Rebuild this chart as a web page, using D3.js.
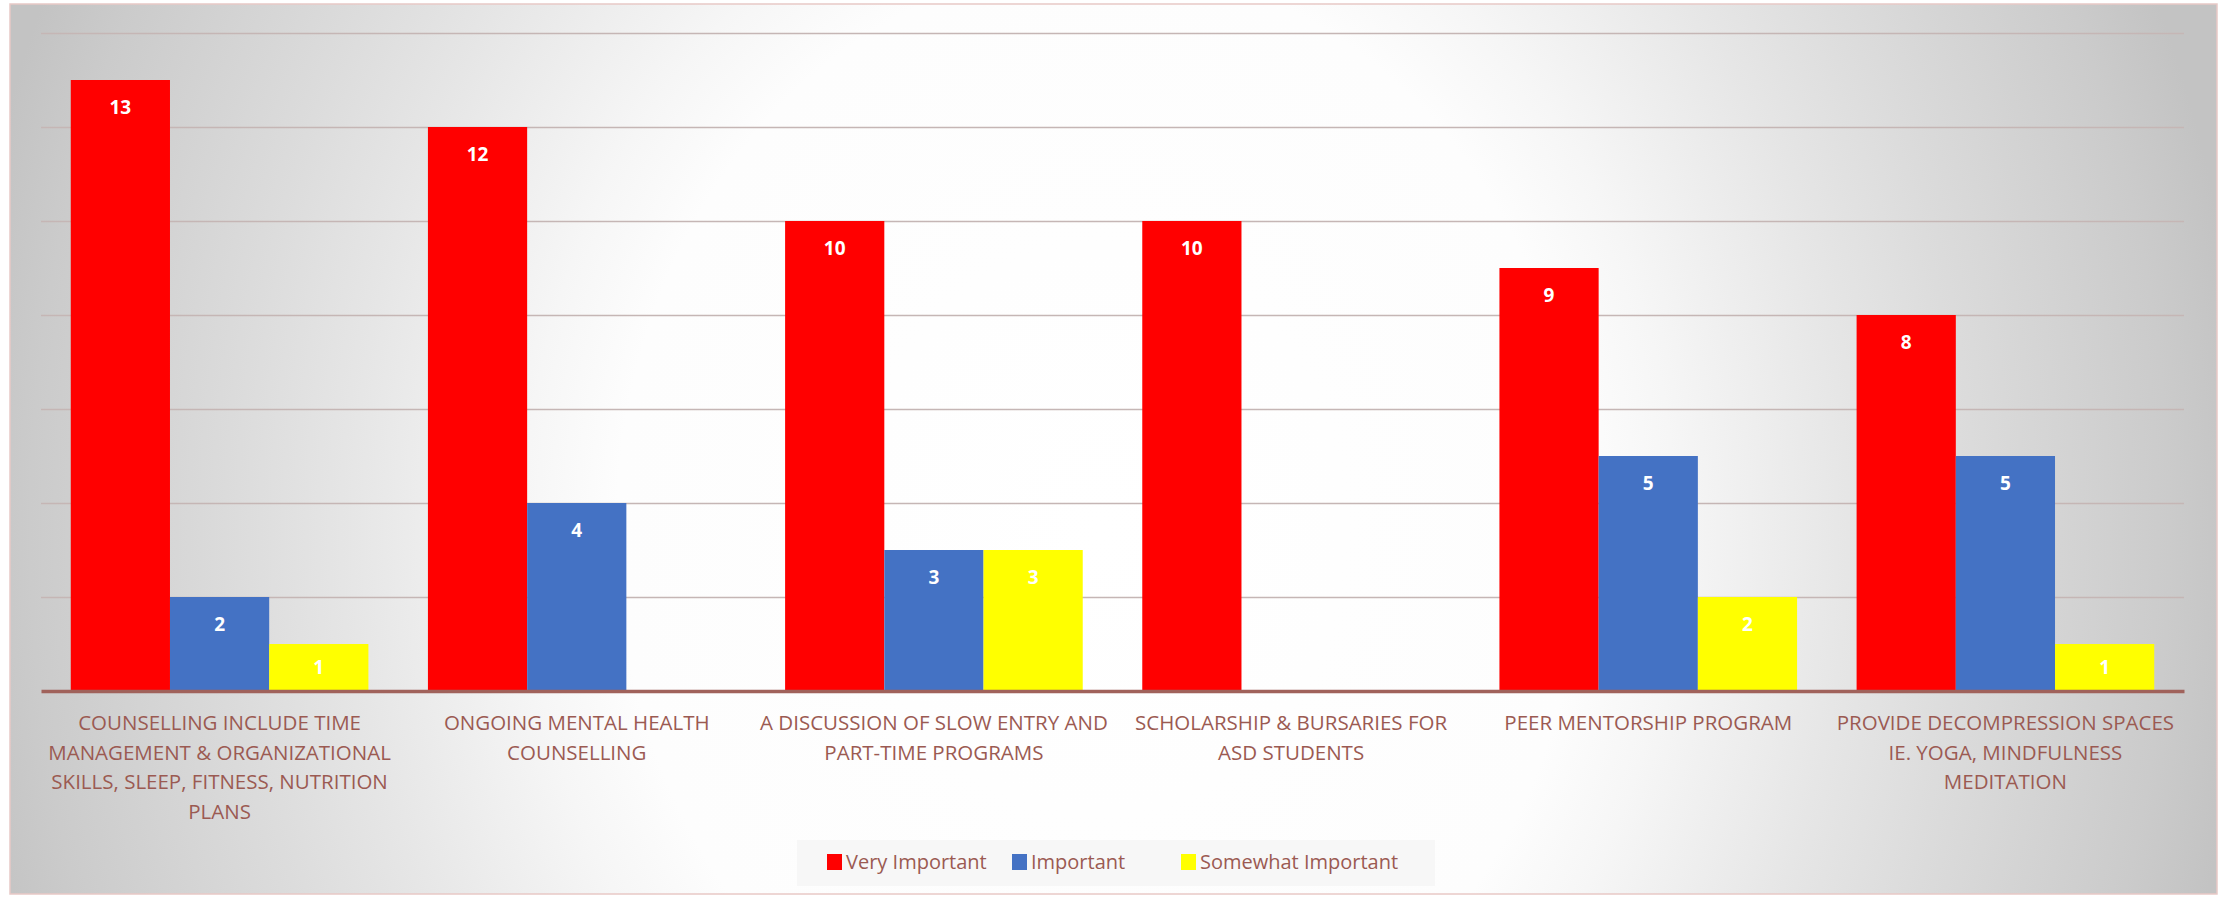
<!DOCTYPE html>
<html>
<head>
<meta charset="utf-8">
<script src="https://cdn.jsdelivr.net/npm/d3@7"></script>
<style>
body { margin: 0; background: #fff; }
svg { display: block; }
text { font-family: "Open Sans", sans-serif; }
</style>
</head>
<body>
<div class="chart-container"></div>
<script>
// Data
const categories = [
    'Counselling include time management',
    'Ongoing mental health counselling',
    'Slow entry and part-time programs',
    'Scholarship & bursaries',
    'Peer mentorship program',
    'Provide decompression spaces'
];
// label lines as wrapped in the picture
const labelLines = [
    ['COUNSELLING INCLUDE TIME', 'MANAGEMENT & ORGANIZATIONAL', 'SKILLS, SLEEP, FITNESS, NUTRITION', 'PLANS'],
    ['ONGOING MENTAL HEALTH', 'COUNSELLING'],
    ['A DISCUSSION OF SLOW ENTRY AND', 'PART-TIME PROGRAMS'],
    ['SCHOLARSHIP & BURSARIES FOR', 'ASD STUDENTS'],
    ['PEER MENTORSHIP PROGRAM'],
    ['PROVIDE DECOMPRESSION SPACES', 'IE. YOGA, MINDFULNESS', 'MEDITATION']
];
const seriesNames = ['Very Important', 'Important', 'Somewhat Important'];
const veryImportant = [13, 12, 10, 10, 9, 8];
const important = [2, 4, 3, 0, 5, 5];
const somewhatImportant = [1, 0, 3, 0, 2, 1];
const yTicks = [0, 2, 4, 6, 8, 10, 12, 14];
const seriesColors = ['#ff0000', '#4472c4', '#ffff00'];

const seriesValues = [veryImportant, important, somewhatImportant];

// canvas
const svg_width = 2224;
const svg_height = 898;
const frame = {x: 10, y: 4, w: 2207, h: 890};
const margin = {top: 33, left: 41, right: 40, bottom: 207};
const chart_width = svg_width - margin.left - margin.right;
const chart_height = svg_height - margin.top - margin.bottom;
const textColor = '#9b5a52';

const svg = d3.select('.chart-container').append('svg')
    .attr('width', svg_width).attr('height', svg_height);

// background: elliptical white centre, grey towards the edges
const defs = svg.append('defs');
const grad = defs.append('radialGradient').attr('id', 'bg')
    .attr('gradientUnits', 'userSpaceOnUse')
    .attr('cx', 0).attr('cy', 0).attr('r', 1150)
    .attr('gradientTransform', 'translate(1100,530) scale(1,1.17)');
[[0, '#ffffff'], [0.42, '#fdfdfd'], [0.5, '#f6f6f6'], [0.65, '#e6e6e6'],
 [0.75, '#dcdcdc'], [0.93, '#cbcbcb'], [1, '#c3c3c3']]
    .forEach(s => grad.append('stop').attr('offset', s[0]).attr('stop-color', s[1]));

svg.append('rect')
    .attr('x', frame.x).attr('y', frame.y)
    .attr('width', frame.w).attr('height', frame.h)
    .attr('fill', 'url(#bg)')
    .attr('stroke', '#e8c9c6').attr('stroke-width', 1.5);

const g = svg.append('g')
    .attr('transform', `translate(${margin.left},${margin.top})`);

// scales
const xScale = d3.scaleBand().domain(categories).range([0, chart_width]).padding(0);
const step = xScale.step();
const barW = step / 3.6; // gap width 60%
const gap = step - 3 * barW;
const xInner = d3.scaleBand().domain(seriesNames).range([gap / 2, step - gap / 2]);
const yScale = d3.scaleLinear().domain([0, 14]).range([chart_height, 0]);

// gridlines
const yAxis = d3.axisLeft(yScale).tickValues(yTicks.filter(d => d > 0))
    .tickSize(-chart_width).tickFormat('');
const yAxisDraw = g.append('g').attr('class', 'y axis').call(yAxis);
yAxisDraw.select('.domain').remove();
yAxisDraw.selectAll('.tick line').attr('stroke', '#c5b6b5').attr('stroke-width', 1.3);

// bars
const rows = categories.map((c, i) => seriesNames.map((s, j) => ({cat: c, series: s, j: j, value: seriesValues[j][i]})));
const groups = g.selectAll('.group').data(rows).enter().append('g')
    .attr('class', 'group')
    .attr('transform', (d, i) => `translate(${xScale(categories[i])},0)`);

groups.selectAll('rect').data(d => d.filter(v => v.value > 0)).enter().append('rect')
    .attr('x', d => xInner(d.series))
    .attr('y', d => yScale(d.value))
    .attr('width', xInner.bandwidth())
    .attr('height', d => chart_height - yScale(d.value))
    .attr('fill', d => seriesColors[d.j]);

groups.selectAll('.label').data(d => d.filter(v => v.value > 0)).enter().append('text')
    .attr('class', 'label')
    .attr('x', d => xInner(d.series) + xInner.bandwidth() / 2)
    .attr('y', d => {
        const top = yScale(d.value);
        const h = chart_height - top;
        return h < 60 ? top + h / 2 : top + 27;
    })
    .attr('dy', '0.36em')
    .attr('text-anchor', 'middle')
    .style('font-weight', 'bold')
    .style('font-size', '19px')
    .style('fill', '#fff')
    .text(d => d.value);

// x axis line
const xAxis = d3.axisBottom(xScale).tickSize(0).tickFormat('');
const xAxisDraw = g.append('g').attr('class', 'x axis')
    .attr('transform', `translate(0,${chart_height})`)
    .call(xAxis);
xAxisDraw.select('.domain').attr('stroke', '#a0625b').attr('stroke-width', 3.5);

// category labels
const catLabels = g.selectAll('.cat-label').data(categories).enter().append('text')
    .attr('class', 'cat-label')
    .attr('text-anchor', 'middle')
    .style('font-size', '20.5px')
    .style('fill', textColor);
catLabels.each(function (d, i) {
    const t = d3.select(this);
    labelLines[i].forEach((line, k) => {
        t.append('tspan')
            .attr('x', xScale(d) + step / 2)
            .attr('y', chart_height + 39 + k * 29.5)
            .text(line);
    });
});

// legend
const legend = svg.append('g').attr('class', 'legend');
legend.append('rect').attr('x', 797).attr('y', 840).attr('width', 638).attr('height', 46)
    .attr('fill', '#f6f6f6').attr('opacity', 0.9);
const legendX = [827, 1012, 1181];
const items = legend.selectAll('.item').data(seriesNames).enter().append('g')
    .attr('class', 'item')
    .attr('transform', (d, i) => `translate(${legendX[i]},862)`);
items.append('rect').attr('x', 0).attr('y', -8).attr('width', 15).attr('height', 16)
    .attr('fill', (d, i) => seriesColors[i]);
items.append('text').attr('x', 19).attr('dy', '0.35em')
    .style('font-size', '20px').style('fill', textColor)
    .text(d => d);
</script>
</body>
</html>
